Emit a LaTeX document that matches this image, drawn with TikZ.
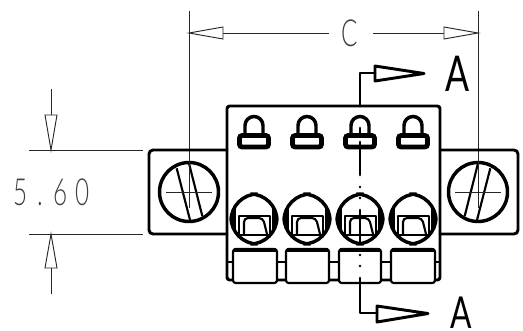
\documentclass[tikz,border=0pt]{standalone}
\usepackage{fontspec}
\newfontfamily\thinfont{Lato Light}
\newfontfamily\capfont{Lato}
\usepackage{tikz}

\tikzset{
  thinline/.style={line width=.7pt,black!85},
  heavy/.style={line width=2.2pt,line cap=round,line join=round},
  medium/.style={line width=1.6pt,line join=round},
  dimtext/.style={font=\thinfont\fontsize{28}{28}\selectfont,black!75,inner sep=0pt,xscale=.65},
  secttext/.style={font=\capfont\fontsize{37}{37}\selectfont,inner sep=0pt,xscale=.72}
}

\begin{document}
\begin{tikzpicture}[x=.75pt,y=-.75pt]
\useasboundingbox (0,0) rectangle (523,330);

% extension and dimension lines
\draw[thinline] (189,11) -- (189,158);
\draw[thinline] (478,11) -- (478,158);
\draw[thinline] (223,33) -- (329,33);
\draw[thinline] (373,33) -- (444,33);
\draw[thinline] (189,33) -- (223,27) -- (223,39) -- cycle;
\draw[thinline] (478,33) -- (444,27) -- (444,39) -- cycle;
\node[dimtext] (labelC) at (350,33) {C};

\draw[thinline] (29,150) -- (143,150);
\draw[thinline] (29,234) -- (143,234);
\draw[thinline] (51,89) -- (51,115);
\draw[thinline] (51,268) -- (51,294);
\draw[thinline] (51,150) -- (45,115) -- (57,115) -- cycle;
\draw[thinline] (51,234) -- (45,268) -- (57,268) -- cycle;
\node[dimtext] (labelDim) at (51.5,192) {5\hspace{12pt}.\hspace{12pt}6\hspace{9pt}0};

% flanges and housing
\draw[heavy,rounded corners=3pt] (227,150) -- (149,150) -- (149,234) -- (227,234);
\draw[heavy,rounded corners=3pt] (440,150) -- (518,150) -- (518,234) -- (440,234);
\draw[heavy,rounded corners=2pt] (227,106) rectangle (440,280);
\draw[medium] (227,262) -- (440,262);

% screws
\foreach \cx/\sgn in {189/1,478/-1}{
  \draw[line width=2.6pt] (\cx,192) circle (29.5);
  \draw[medium] (\cx-12.3*\sgn,168.3) -- (\cx+1*\sgn,220);
  \draw[medium] (\cx,163.3) -- (\cx+13.3*\sgn,216);
  \draw[thinline] (\cx-23,192) -- (\cx+23,192);
  \draw[thinline] (\cx,158) -- (\cx,208);
}

% locks, terminals, blocks
\foreach \cx in {254,307,360,413}{
  \draw[line width=2.6pt] (\cx-9,134) -- (\cx-9,125.5) arc[start angle=180,end angle=360,radius=9] -- (\cx+9,134);
  \draw[line width=3.6pt,rounded corners=2pt,fill=white] (\cx-14.5,135.5) rectangle (\cx+14.5,147);

  \draw[line width=2.6pt,rounded corners=20pt] (\cx-23,194) rectangle (\cx+23,244);
  \draw[medium] (\cx-19.5,208) -- (\cx-19.5,230);
  \draw[medium] (\cx+19.5,208) -- (\cx+19.5,230);
  \draw[medium] (\cx-15,234) -- (\cx-15,216) -- (\cx+16,216) -- (\cx+16,234);
  \draw[medium,rounded corners=3pt] (\cx-10,234) -- (\cx-10,218) -- (\cx+9,218) -- (\cx+13,234);
  \draw[line width=2.2pt] (\cx-15,235) -- (\cx+17,235);
}
\foreach \bx/\ex in {233/277,286/329,339/381,391/435}{
  \draw[medium,rounded corners=2pt,fill=white] (\bx,249) rectangle (\ex,283);
  \draw[line width=2.6pt] (\bx+1,250) -- (\ex-1,250);
}

% section line
\draw[heavy] (360,106) -- (360,73) -- (375,73);
\draw[heavy] (375,66) -- (424,73.5) -- (375,81) -- cycle;
\draw[heavy] (360,278) -- (360,313) -- (377,313);
\draw[heavy] (377,306) -- (428,313.5) -- (377,322) -- cycle;
\draw[heavy] (360,128) -- (360,133);
\draw[heavy] (360,142) -- (360,175);
\draw[heavy] (360,210) -- (360,243);
\foreach \dy in {187,198,255,266}{
  \fill (360,\dy) circle (1.3);
}
\node[secttext] (labelAtop) at (457.5,74) {A};
\node[secttext,font=\capfont\fontsize{33}{33}\selectfont] (labelAbot) at (461.5,312.5) {A};
\end{tikzpicture}
\end{document}
